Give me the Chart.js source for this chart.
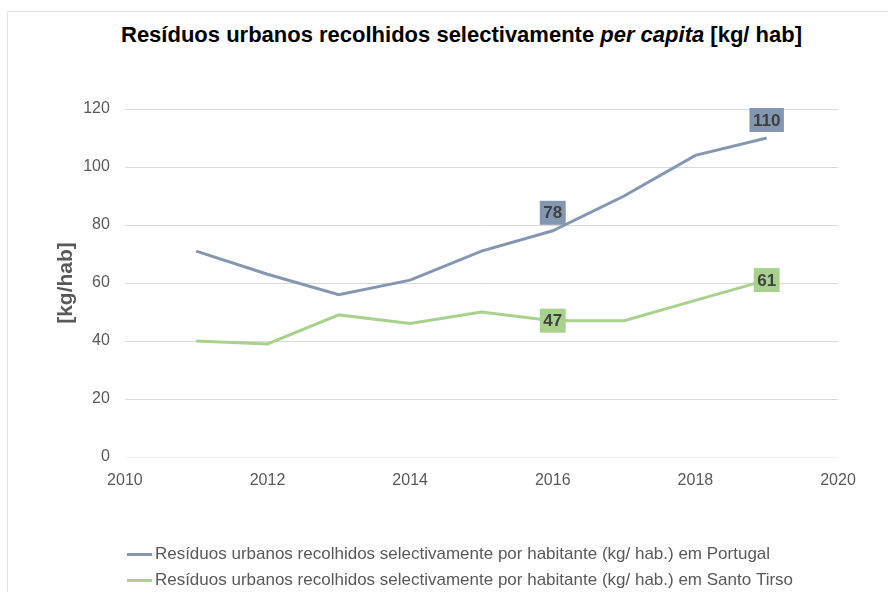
<!DOCTYPE html>
<html>
<head>
<meta charset="utf-8">
<script src="https://cdn.jsdelivr.net/npm/chart.js@4.4.1/dist/chart.umd.min.js"></script>
<style>
  html, body { margin: 0; padding: 0; background: #fff; overflow: hidden; }
  #frame { position: absolute; left: 7px; top: 11px; width: 1000px; height: 1000px; border: 1px solid #e2e2e2; }
  #title { position: absolute; left: 35px; width: 853px; top: 22px; text-align: center;
           font: bold 22px "Liberation Sans", Arial, sans-serif; color: #000; white-space: nowrap; }
  #wrap { position: absolute; left: 0; top: 0; width: 888px; height: 599px; }
</style>
</head>
<body>
<div id="frame"></div>
<div id="title">Resíduos urbanos recolhidos selectivamente <i>per capita</i> [kg/ hab]</div>
<div id="wrap"><canvas id="chart"></canvas></div>
<script>
const FONT = '"Liberation Sans", Arial, sans-serif';

// dados
const years = [2011, 2012, 2013, 2014, 2015, 2016, 2017, 2018, 2019];
const portugal = [71, 63, 56, 61, 71, 78, 90, 104, 110];
const santoTirso = [40, 39, 49, 46, 50, 47, 47, 54, 61];
const seriesNames = [
  'Resíduos urbanos recolhidos selectivamente por habitante (kg/ hab.) em Portugal',
  'Resíduos urbanos recolhidos selectivamente por habitante (kg/ hab.) em Santo Tirso'
];
const seriesColors = ['#8497b0', '#a9d18e'];
const labelledYears = [2016, 2019]; // anos com etiqueta de valor
const yAxisTitle = '[kg/hab]';

const toPoints = vals => years.map((y, i) => ({ x: y, y: vals[i] }));

// pequeno traço para a legenda
function legendLine(color) {
  const c = document.createElement('canvas');
  c.width = 25;
  c.height = 3;
  const g = c.getContext('2d');
  g.fillStyle = color;
  g.fillRect(0, 0, 25, 3);
  return c;
}

// etiquetas com caixa colorida
const valueBoxes = {
  id: 'valueBoxes',
  afterDatasetsDraw(chart) {
    const ctx = chart.ctx;
    ctx.save();
    ctx.font = 'bold 17px ' + FONT;
    ctx.textAlign = 'center';
    ctx.textBaseline = 'middle';
    chart.data.datasets.forEach((ds, di) => {
      const meta = chart.getDatasetMeta(di);
      labelledYears.forEach(yr => {
        const i = years.indexOf(yr);
        const pt = meta.data[i];
        const txt = String(ds.data[i].y);
        const w = ctx.measureText(txt).width + 7;
        const h = 24;
        const cy = ds.boxAbove ? pt.y - 18 : pt.y;
        ctx.fillStyle = ds.borderColor;
        ctx.fillRect(pt.x - w / 2, cy - h / 2, w, h);
        ctx.fillStyle = '#404040';
        ctx.fillText(txt, pt.x, cy + 1);
      });
    });
    ctx.restore();
  }
};

// encosta a legenda à esquerda da área do gráfico
const legendShift = {
  id: 'legendShift',
  afterLayout(chart) {
    chart.legend.left -= 1.5;
    chart.legend.right -= 1.5;
  }
};

new Chart(document.getElementById('chart'), {
  type: 'line',
  data: {
    datasets: [
      {
        label: seriesNames[0],
        data: toPoints(portugal),
        borderColor: seriesColors[0],
        backgroundColor: seriesColors[0],
        borderWidth: 3,
        pointRadius: 0,
        tension: 0,
        boxAbove: true
      },
      {
        label: seriesNames[1],
        data: toPoints(santoTirso),
        borderColor: seriesColors[1],
        backgroundColor: seriesColors[1],
        borderWidth: 3,
        pointRadius: 0,
        tension: 0,
        boxAbove: false
      }
    ]
  },
  options: {
    responsive: true,
    maintainAspectRatio: false,
    animation: false,
    layout: { padding: { left: 50, right: 50, top: 109, bottom: 0 } },
    plugins: {
      title: { display: false },
      tooltip: { enabled: false },
      legend: {
        position: 'bottom',
        align: 'start',
        fullSize: false,
        labels: {
          usePointStyle: true,
          pointStyleWidth: 14,
          padding: 9,
          color: '#595959',
          font: { family: FONT, size: 17 },
          generateLabels: chart =>
            Chart.defaults.plugins.legend.labels.generateLabels(chart).map((item, i) => {
              item.pointStyle = legendLine(seriesColors[i]);
              return item;
            })
        }
      }
    },
    scales: {
      x: {
        type: 'linear',
        min: 2010,
        max: 2020,
        grid: { display: false, drawTicks: false, tickLength: 0 },
        border: { display: false },
        ticks: {
          stepSize: 2,
          padding: 14,
          color: '#595959',
          font: { family: FONT, size: 16 },
          callback: v => String(v)
        },
        afterFit: scale => { scale.height = 80; }
      },
      y: {
        min: 0,
        max: 120,
        grid: {
          drawTicks: false,
          tickLength: 0,
          color: ctx => ctx.tick && ctx.tick.value === 0 ? '#efefef' : '#d9d9d9'
        },
        border: { display: false },
        ticks: {
          stepSize: 20,
          padding: 15,
          color: '#595959',
          font: { family: FONT, size: 16 }
        },
        title: {
          display: true,
          text: yAxisTitle,
          color: '#595959',
          font: { family: FONT, size: 21, weight: 'bold' },
          padding: { top: 4, bottom: -11 }
        }
      }
    }
  },
  plugins: [valueBoxes, legendShift]
});
</script>
</body>
</html>
